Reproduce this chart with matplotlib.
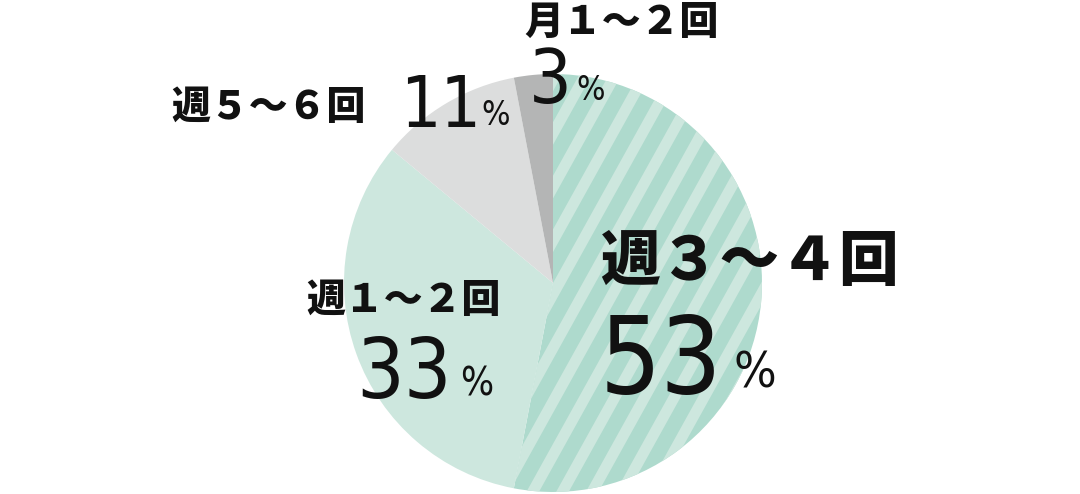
import numpy as np
import matplotlib
matplotlib.use('Agg')
import matplotlib.pyplot as plt
from matplotlib.patches import Polygon

# data
labels = ['週３～４回', '週１～２回', '週５～６回', '月１～２回']
values = [53, 33, 11, 3]
colors = ['#aedacd', '#cde7de', '#dcdddd', '#b4b5b5']
stripe_color = '#cde7de'

jp_font = ['Noto Sans CJK JP', 'DejaVu Sans']
num_font = ['DejaVu Sans']

W, H = 1080, 494
fig = plt.figure(figsize=(W / 100, H / 100), dpi=100)
ax = fig.add_axes([0, 0, 1, 1])

cx, cy, r = 553, H - 283, 209
wedges, _ = ax.pie(values, colors=colors, startangle=90, counterclock=False,
                   center=(cx, cy), radius=r, frame=True,
                   wedgeprops=dict(linewidth=0))

# diagonal stripes inside the 53% slice
ang = np.deg2rad(61)
d = np.array([np.cos(ang), np.sin(ang)])
nrm = np.array([np.sin(ang), -np.cos(ang)])
period, width = 26, 11
for k in range(-12, 13):
    o = np.array([cx, cy]) + nrm * k * period
    p0 = o - d * 400
    p1 = o + d * 400
    poly = Polygon([p0, p1, p1 + nrm * width, p0 + nrm * width],
                   closed=True, facecolor=stripe_color, edgecolor='none')
    ax.add_patch(poly)
    poly.set_clip_path(wedges[0])

ax.set_xlim(0, W)
ax.set_ylim(0, H)
ax.set_aspect('equal')
ax.axis('off')

# text blocks: (label pos, label size, number pos, number size, pct pos, pct size)
layout = [
    ((600, H - 262), 43, (600, H - 393), 77, (733, H - 388), 36),
    ((306, H - 300), 28, (356, H - 398), 60, (460, H - 396), 28),
    ((171, H - 107), 28, (400, H - 127), 51, (481, H - 125), 24),
    ((524, H - 22), 28, (529, H - 103), 54, (576, H - 100), 24),
]
for lab, val, (lp, ls, npos, ns, ppos, ps) in zip(labels, values, layout):
    ax.text(lp[0], lp[1], lab, family=jp_font, fontweight=900, fontsize=ls,
            ha='left', va='center', color='#111111')
    ax.text(npos[0], npos[1], str(val), family=num_font, fontsize=ns,
            fontstretch='condensed', fontweight='light',
            ha='left', va='baseline', color='#111111')
    ax.text(ppos[0], ppos[1], '%', family=num_font, fontsize=ps,
            fontstretch='condensed', fontweight='light',
            ha='left', va='baseline', color='#111111')

fig.savefig('out.png', dpi=100)
